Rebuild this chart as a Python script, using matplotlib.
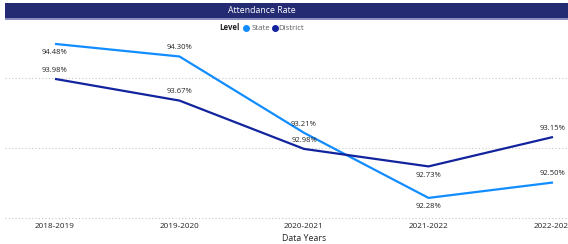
import matplotlib
matplotlib.use("Agg")
import matplotlib.pyplot as plt
from matplotlib.patches import Rectangle
from matplotlib.lines import Line2D

years = ["2018-2019", "2019-2020", "2020-2021", "2021-2022", "2022-2023"]
state = [94.48, 94.30, 93.21, 92.28, 92.50]
district = [93.98, 93.67, 92.98, 92.73, 93.15]
# label placement: +1 above, -1 below
state_pos = [-1, 1, 1, -1, 1]
district_pos = [1, 1, 1, -1, 1]

STATE_C = "#118DFF"
DIST_C = "#12239E"
TXT = "#252423"

plt.rcParams["font.family"] = ["Open Sans", "DejaVu Sans"]

W, H = 568, 244
fig = plt.figure(figsize=(W / 100, H / 100), dpi=100)

# title bar
fig.patches.append(Rectangle((5 / W, 1 - 18 / H), 1, 15 / H, transform=fig.transFigure,
                             facecolor="#252B73", edgecolor="none"))
fig.patches.append(Rectangle((5 / W, 1 - 19.5 / H), 1, 1.5 / H, transform=fig.transFigure,
                             facecolor="#8A8FC0", edgecolor="none"))
fig.text(262 / W, 1 - 10.5 / H, "Attendance Rate", color="white",
         fontsize=6.3, ha="center", va="center")

# legend
ly = 1 - 28 / H
fig.text(219 / W, ly, "Level", fontsize=5.6, fontweight="bold", color=TXT, va="center")
fig.add_artist(Line2D([246 / W], [ly], marker="o", markersize=4, color=STATE_C,
                      transform=fig.transFigure))
fig.text(251.5 / W, ly, "State", fontsize=5.6, color="#605E5C", va="center")
fig.add_artist(Line2D([275 / W], [ly], marker="o", markersize=4, color=DIST_C,
                      transform=fig.transFigure))
fig.text(278.5 / W, ly, "District", fontsize=5.6, color="#605E5C", va="center")

# plot area
left, right = 5, 568
bottom, top = 217.5, 36
ax = fig.add_axes([left / W, 1 - bottom / H, (right - left) / W, (bottom - top) / H])
x = list(range(len(years)))
ax.plot(x, state, color=STATE_C, lw=1.6, solid_capstyle="butt")
ax.plot(x, district, color=DIST_C, lw=1.6, solid_capstyle="butt")

px = 124.5
ax.set_xlim(-(55 - left) / px, 4 + (right - 553) / px)
ax.set_ylim(92.0, 92.0 + (bottom - top) / 70)

for v in [92, 93, 94]:
    ax.axhline(v, color="#C8C6C4", lw=0.8, ls=(0, (1, 2)), zorder=0, clip_on=False)

for vals, pos in [(state, state_pos), (district, district_pos)]:
    for i, (v, p) in enumerate(zip(vals, pos)):
        ax.annotate(f"{v:.2f}%", (i, v), xytext=(0, 3.8 * p), textcoords="offset points",
                    ha="center", va="bottom" if p > 0 else "top", fontsize=5.5, color=TXT)

ax.set_xticks(x)
ax.set_xticklabels(years, fontsize=5.9, color=TXT)
ax.tick_params(axis="x", length=0, pad=4)
ax.set_yticks([])
for s in ax.spines.values():
    s.set_visible(False)
ax.text(2, -0.09, "Data Years", transform=ax.get_xaxis_transform(), ha="center",
        va="top", fontsize=6.3, color=TXT)

fig.savefig("out.png", dpi=100)
